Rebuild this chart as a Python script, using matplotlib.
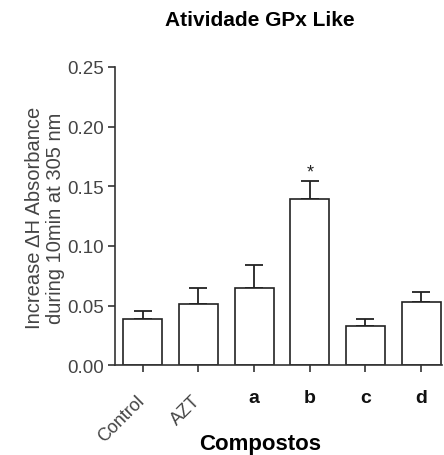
import matplotlib.pyplot as plt
import numpy as np

plt.rcParams['font.family'] = ['Liberation Sans', 'DejaVu Sans']

# Compounds and GPx-like activity (mean, SEM)
groups = ['Control', 'AZT', 'a', 'b', 'c', 'd']
means = [0.039, 0.051, 0.065, 0.139, 0.033, 0.053]
errors = [0.006, 0.014, 0.019, 0.015, 0.006, 0.008]
marks = ['', '', '', '*', '', '']

fig = plt.figure(figsize=(4.44, 4.56), dpi=100)
ax = fig.add_axes([0.259, 0.197, 0.737, 0.654])

x = np.arange(len(groups))
ax.bar(x, means, width=0.7, color='white', edgecolor='#222222', linewidth=1.2, zorder=2)
ax.errorbar(x, means, yerr=[np.zeros(len(errors)), errors], fmt='none',
            ecolor='#222222', elinewidth=1.3, capsize=6.5, capthick=1.3, zorder=1)

for xi, m, e, s in zip(x, means, errors, marks):
    if s:
        ax.text(xi, m + e + 0.001, s, ha='center', va='bottom', fontsize=13, color='#222222')

ax.set_xlim(-0.5, 5.38)
ax.set_ylim(0, 0.25)
ax.set_yticks([0, 0.05, 0.10, 0.15, 0.20, 0.25])
ax.set_yticklabels(['0.00', '0.05', '0.10', '0.15', '0.20', '0.25'])
ax.set_xticks(x)
ax.set_xticklabels([])
for xi, g in zip(x, groups):
    if g in ('Control', 'AZT'):
        ax.text(xi + 0.1, -0.022, g, rotation=45, ha='right', va='top', fontsize=13,
                color='#444444')
    else:
        ax.text(xi, -0.031, g, ha='center', va='baseline', fontsize=14, fontweight='bold',
                color='#111111')

for side in ['top', 'right']:
    ax.spines[side].set_visible(False)
for side in ['left', 'bottom']:
    ax.spines[side].set_linewidth(1.2)
    ax.spines[side].set_color('#333333')

ax.tick_params(axis='both', direction='out', length=5, width=1.2, color='#333333')
ax.tick_params(axis='y', labelsize=13.5, labelcolor='#444444', pad=3)

fig.text(45 / 444, 1 - 218 / 456, 'Increase \u0394H Absorbance\nduring 10min at 305 nm',
         rotation=90, ha='center', va='center', fontsize=14.5, color='#444444',
         linespacing=1.1)
fig.text(260 / 444, 1 - 445 / 456, 'Compostos', ha='center', va='center',
         fontsize=16, fontweight='bold')
fig.text(260 / 444, 1 - 21 / 456, 'Atividade GPx Like', ha='center', va='center',
         fontsize=15, fontweight='bold')

fig.savefig('out.png', dpi=100)
